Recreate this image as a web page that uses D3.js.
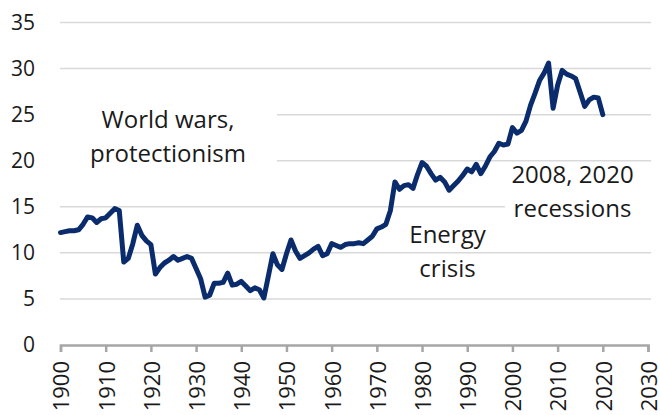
<!DOCTYPE html>
<html><head><meta charset="utf-8">
<script src="https://cdn.jsdelivr.net/npm/d3@7"></script>
<style>
html,body{margin:0;padding:0;background:#fff;}
svg{display:block;font-family:"Open Sans",sans-serif;}
</style></head>
<body>
<svg id="chart" width="660" height="415"></svg>
<script>
const years = d3.range(1900, 2021);
const values = [
12.2,12.3,12.4,12.4,12.5,13.1,13.9,13.8,13.3,13.7,
13.8,14.3,14.8,14.6,9.0,9.4,11.0,13.0,11.9,11.3,
10.9,7.7,8.4,8.9,9.2,9.6,9.2,9.4,9.6,9.4,
8.3,7.2,5.2,5.4,6.7,6.7,6.8,7.8,6.5,6.6,
6.9,6.4,5.9,6.2,6.0,5.1,7.5,9.9,8.7,8.2,
9.9,11.4,10.2,9.4,9.7,10.0,10.4,10.7,9.7,9.9,
11.0,10.8,10.6,10.9,11.0,11.0,11.1,11.0,11.4,11.8,
12.6,12.8,13.1,14.6,17.7,16.9,17.3,17.4,17.0,18.5,
19.8,19.4,18.6,17.9,18.2,17.7,16.8,17.3,17.8,18.4,
19.1,18.8,19.6,18.6,19.4,20.4,21.0,21.9,21.7,21.8,
23.6,23.0,23.3,24.3,26.0,27.3,28.7,29.5,30.6,25.7,
28.2,29.8,29.4,29.2,28.9,27.4,25.9,26.6,26.9,26.8,
25.0];
const xTicks = d3.range(1900, 2031, 10);
const yTicks = [0,5,10,15,20,25,30,35];
const notes = [
  {lines:["World wars,","protectionism"], x:168, y:128, box:[60,88,277,190]},
  {lines:["2008, 2020","recessions"], x:572.5, y:183, box:[505,166,652,226]},
  {lines:["Energy","crisis"], x:447.5, y:243, box:null}
];

const svg = d3.select("#chart");
const x = d3.scaleLinear().domain([1900,2030]).range([60.5,648]);
const y = d3.scaleLinear().domain([0,35]).range([345,22.5]);

// gridlines
svg.append("g").selectAll("line").data(yTicks.filter(d=>d>0)).join("line")
  .attr("x1",60).attr("x2",651).attr("y1",d=>y(d)).attr("y2",d=>y(d))
  .attr("stroke","#d9d9d9").attr("stroke-width",1.5);

// y labels
svg.append("g").selectAll("text").data(yTicks).join("text")
  .attr("x",35).attr("y",d=>y(d)).attr("dy","0.35em")
  .attr("text-anchor","end").attr("font-size",21).attr("fill","#1a1a1a")
  .text(d=>d);

// x axis
const xa = svg.append("g").attr("transform","translate(0,345)")
  .call(d3.axisBottom(x).tickValues(xTicks).tickFormat(d3.format("d")).tickSize(7).tickPadding(10));
xa.select(".domain").attr("stroke","#a6a6a6").attr("stroke-width",2.5);
xa.selectAll(".tick line").attr("stroke","#a6a6a6").attr("stroke-width",2.5);
xa.selectAll(".tick text")
  .attr("font-size",22).attr("fill","#1a1a1a").attr("font-family","Open Sans")
  .attr("transform","rotate(-90)")
  .attr("text-anchor","end").attr("x",-16).attr("y",0).attr("dy","0.38em");

// annotation boxes
notes.filter(n=>n.box).forEach(n=>{
  svg.append("rect").attr("x",n.box[0]).attr("y",n.box[1])
    .attr("width",n.box[2]-n.box[0]).attr("height",n.box[3]-n.box[1]).attr("fill","#fff");
});

// line
svg.append("path").datum(values)
  .attr("fill","none").attr("stroke","#0a2b6c").attr("stroke-width",5)
  .attr("stroke-linejoin","round").attr("stroke-linecap","round")
  .attr("d", d3.line().x((d,i)=>x(years[i])).y(d=>y(d)));

// annotations
notes.forEach(n=>{
  const t = svg.append("text").attr("text-anchor","middle").attr("font-size",24).attr("fill","#1a1a1a");
  n.lines.forEach((l,i)=>t.append("tspan").attr("x",n.x).attr("y",n.y+i*34).text(l));
});
</script>
</body></html>
